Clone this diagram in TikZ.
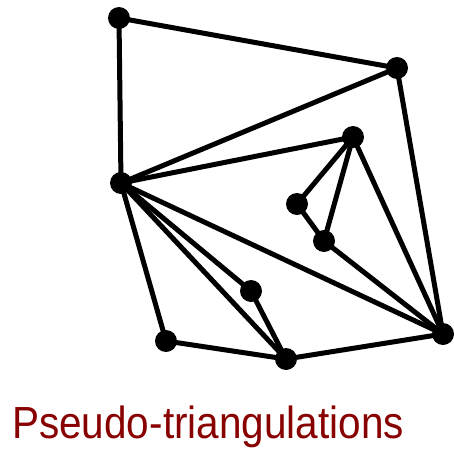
\documentclass[tikz,border=0pt]{standalone}
\usepackage{fontspec}
\setmainfont{Liberation Sans}
\definecolor{titlered}{RGB}{136,0,0}
\begin{document}
\begin{tikzpicture}[x=1pt,y=-1pt,
  pt/.style={circle,fill=black,inner sep=0pt,minimum size=22pt},
  edge/.style={line width=5pt}]
\useasboundingbox (0,0) rectangle (453,453);
\node[pt] (A) at (119,18) {};
\node[pt] (B) at (397,68) {};
\node[pt] (C) at (353,137) {};
\node[pt] (D) at (121,183) {};
\node[pt] (E) at (297,204) {};
\node[pt] (F) at (324,241) {};
\node[pt] (G) at (251,291) {};
\node[pt] (H) at (166,341) {};
\node[pt] (I) at (286,359) {};
\node[pt] (J) at (443,334) {};
\draw[edge] (A.center) -- (B.center);
\draw[edge] (A.center) -- (D.center);
\draw[edge] (D.center) -- (B.center);
\draw[edge] (B.center) -- (J.center);
\draw[edge] (D.center) -- (C.center);
\draw[edge] (C.center) -- (E.center);
\draw[edge] (E.center) -- (F.center);
\draw[edge] (C.center) -- (F.center);
\draw[edge] (C.center) -- (J.center);
\draw[edge] (F.center) -- (J.center);
\draw[edge] (D.center) -- (J.center);
\draw[edge] (D.center) -- (G.center);
\draw[edge] (G.center) -- (I.center);
\draw[edge] (D.center) -- (I.center);
\draw[edge] (D.center) -- (H.center);
\draw[edge] (H.center) -- (I.center);
\draw[edge] (I.center) -- (J.center);
\node[anchor=base west,inner sep=0pt,text=titlered,font=\fontsize{45}{45}\selectfont,xscale=0.9] (T) at (12,438) {Pseudo-triangulations};
\end{tikzpicture}
\end{document}
